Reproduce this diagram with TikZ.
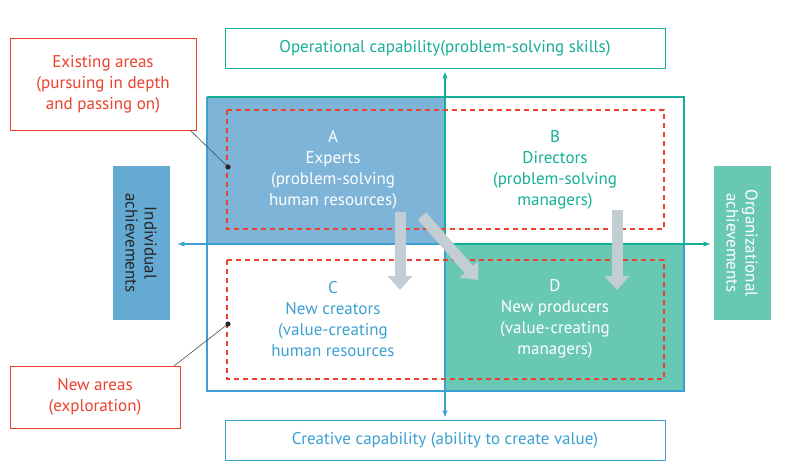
\documentclass[tikz,border=0pt]{standalone}
\usepackage{fontspec}
\setmainfont{PT Sans}
\usetikzlibrary{arrows.meta}
\definecolor{tblue}{RGB}{60,160,210}
\definecolor{ablue}{RGB}{125,180,215}
\definecolor{tteal}{RGB}{20,175,150}
\definecolor{dteal}{RGB}{105,200,180}
\definecolor{tred}{RGB}{235,65,45}
\definecolor{sblue}{RGB}{100,170,210}
\definecolor{gar}{RGB}{195,205,212}
\begin{document}
\begin{tikzpicture}[x=1pt,y=-1pt,
  txt/.style={font=\fontsize{17}{21}\selectfont,align=center},
  reddash/.style={draw=tred,line width=2.2pt,dash pattern=on 5pt off 4pt},
  garrow/.style={draw=gar,line width=11pt,-{Triangle[width=24pt,length=14pt]}},
  lbl/.style={draw=tred,line width=0.7pt,fill=white,text=tred,font=\fontsize{17}{21}\selectfont,align=center},
  axbox/.style={draw,line width=0.7pt,fill=white,font=\fontsize{17}{21}\selectfont}]
\useasboundingbox (0,0) rectangle (791,470);
% quadrants
\fill[ablue] (207,97) rectangle (445,244);
\fill[dteal] (445,244) rectangle (684,391);
\draw[tteal,line width=1.5pt] (207,97) -- (684,97) -- (684,244);
\draw[tblue,line width=1.5pt] (684,244) -- (684,391) -- (207,391) -- (207,97);
% axes
\coordinate (o) at (445,244);
\coordinate (ct) at (445,72); \coordinate (cb) at (445,417);
\coordinate (cl) at (178,244); \coordinate (cr) at (710,244);
\draw[tteal,line width=1.2pt,-{Stealth[length=7pt]}] (o) -- (ct);
\draw[tblue,line width=1.2pt,-{Stealth[length=7pt]}] (o) -- (cb);
\draw[tblue,line width=1.2pt,-{Stealth[length=7pt]}] (o) -- (cl);
\draw[tteal,line width=1.2pt,-{Stealth[length=7pt]}] (o) -- (cr);
% dashed areas
\draw[reddash] (227,110) rectangle (664,229);
\draw[reddash] (227,260) rectangle (664,379);
% gray arrows
\coordinate (g1s) at (400,212); \coordinate (g1e) at (400,290);
\coordinate (g2s) at (422,216); \coordinate (g2e) at (478,280);
\coordinate (g3s) at (617,210); \coordinate (g3e) at (617,290);
\draw[garrow] (g1s) -- (g1e);
\draw[garrow] (g2s) -- (g2e);
\draw[garrow] (g3s) -- (g3e);
% texts
\node[txt,text=white] (A) at (333,170) {A\\Experts\\(problem-solving\\human resources)};
\node[txt,text=tteal] (B) at (555,170) {B\\Directors\\(problem-solving\\managers)};
\node[txt,text=tblue] (C) at (333,319) {C\\New creators\\(value-creating\\human resources};
\node[txt,text=white] (D) at (555,319) {D\\New producers\\(value-creating\\managers)};
% axis labels
\node[axbox,draw=tteal,text=tteal,minimum width=440pt,minimum height=40pt] (top) at (445,48) {Operational capability(problem-solving skills)};
\node[axbox,draw=tblue,text=tblue,minimum width=440pt,minimum height=40pt] (bot) at (445,440) {Creative capability (ability to create value)};
\node[fill=sblue,minimum width=57pt,minimum height=154pt] (L) at (141,243) {};
\node[rotate=-90,align=center,font=\fontsize{17}{19}\selectfont,text=black!85] (Lt) at (L) {Individual\\achievements};
\node[fill=dteal,minimum width=57pt,minimum height=154pt] (R) at (742,243) {};
\node[rotate=-90,align=center,font=\fontsize{17}{19}\selectfont,text=white] (Rt) at (R) {Organizational\\achievements};
% callouts
\node[lbl,minimum width=186pt,minimum height=92pt] (E) at (103,84) {Existing areas\\(pursuing in depth\\and passing on)};
\node[lbl,minimum width=170pt,minimum height=62pt] (N) at (95,397) {New areas\\(exploration)};
\coordinate (d1) at (228,167); \coordinate (d2) at (228,324);
\coordinate (e1) at ([xshift=-6pt]E.south east);
\coordinate (n1) at ([xshift=-6pt]N.north east);
\draw[black!70,line width=0.6pt] (e1) -- (d1);
\draw[black!70,line width=0.6pt] (n1) -- (d2);
\fill[black!85] (d1) circle (2.6pt) (d2) circle (2.6pt);
\end{tikzpicture}
\end{document}
